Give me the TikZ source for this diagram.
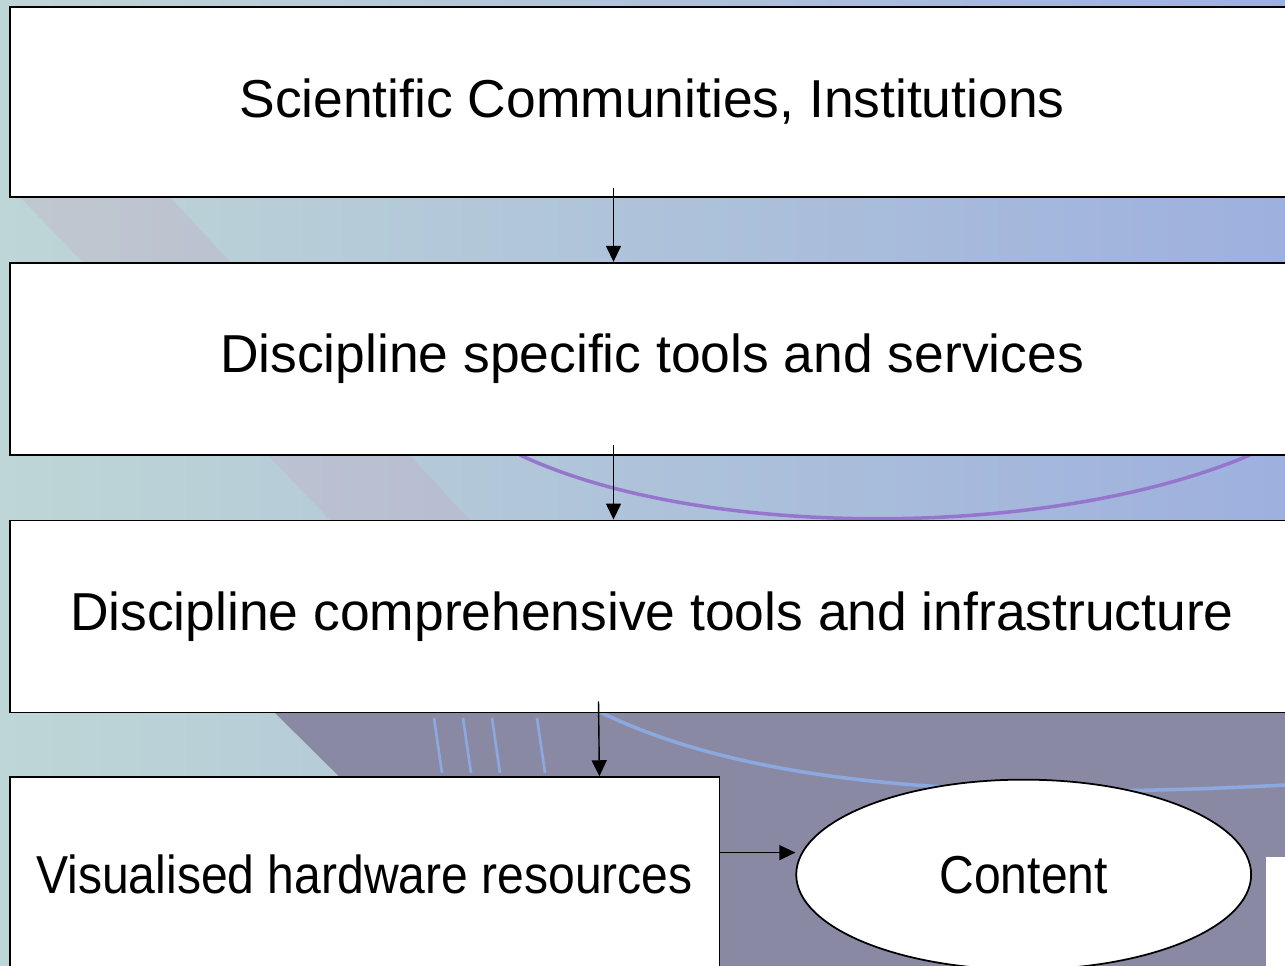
\documentclass[tikz,border=0pt]{standalone}
\usepackage{fontspec}
\setmainfont{Liberation Sans}
\usepackage{tikz}
\usetikzlibrary{arrows.meta,shapes.geometric,positioning}

\definecolor{bgteal}{RGB}{190,214,214}
\definecolor{bgblue}{RGB}{158,176,222}
\definecolor{bgdark}{RGB}{138,137,164}
\definecolor{dialarc}{RGB}{150,118,205}
\definecolor{dialline}{RGB}{140,178,238}
\definecolor{stripe}{RGB}{200,160,190}

\begin{document}
\begin{tikzpicture}[x=0.02cm, y=-0.02cm, node distance=1.28cm,
    layer/.style={draw, line width=1pt, fill=white, inner sep=0pt,
        minimum width=25.7cm, minimum height=3.84cm,
        font=\fontsize{30.4}{36}\selectfont},
    flow/.style={-{Triangle[width=0.3cm,length=0.32cm]}, line width=0.8pt}]
    \useasboundingbox (0,0) rectangle (1285,966);

    % background picture
    \shade[left color=bgteal, right color=bgblue] (0,0) rectangle (1285,966);
    \fill[stripe, opacity=0.25] (20,197) -- (170,197) -- (470,520) -- (330,520) -- cycle;
    \fill[bgdark] (262,700) -- (1285,700) -- (1285,966) -- (530,966) -- cycle;
    \draw[dialarc, line width=2pt] (520,455) .. controls (700,540) and (1050,540) .. (1250,455);
    \draw[dialline, line width=2pt, opacity=0.8] (600,712) .. controls (760,790) and (1000,800) .. (1285,785);
    \foreach \tx in {434,463,492,537}
        \draw[dialline, line width=1.5pt, opacity=0.8] (\tx,718) -- ++(8,55);

    % layers
    \node[layer, minimum height=3.8cm] (sci) at (652,102) {Scientific Communities, Institutions};
    \node[layer, below=of sci] (disc) {Discipline specific tools and services};
    \node[layer, below=of disc] (comp) {Discipline comprehensive tools and infrastructure};
    \node[layer, below=1.26cm of comp.south west, anchor=north west,
        minimum width=14.2cm, minimum height=3.9cm] (hw)
        {\scalebox{0.9}[1]{Visualised hardware resources}};
    \node[draw, line width=1pt, fill=white, ellipse, inner sep=0pt,
        minimum width=9.1cm, minimum height=3.8cm, right=1.5cm of hw,
        font=\fontsize{30.4}{36}\selectfont] (content) {\scalebox{0.9}[1]{Content}};
    \node[fill=white, inner sep=0pt, minimum width=1cm, minimum height=2.5cm,
        anchor=north west] (nextbox) at (1266,857) {};

    \draw[flow] ([xshift=-0.77cm, yshift=0.2cm]sci.south) -- ([xshift=-0.77cm]disc.north);
    \draw[flow] ([xshift=-0.77cm, yshift=0.22cm]disc.south) -- ([xshift=-0.77cm]comp.north);
    \draw[flow] ([xshift=-1.07cm, yshift=0.24cm]comp.south) -- ([xshift=-2.42cm]hw.north east);
    \draw[flow] ([yshift=0.44cm]hw.east) -- ([yshift=0.44cm]content.west);
\end{tikzpicture}
\end{document}
